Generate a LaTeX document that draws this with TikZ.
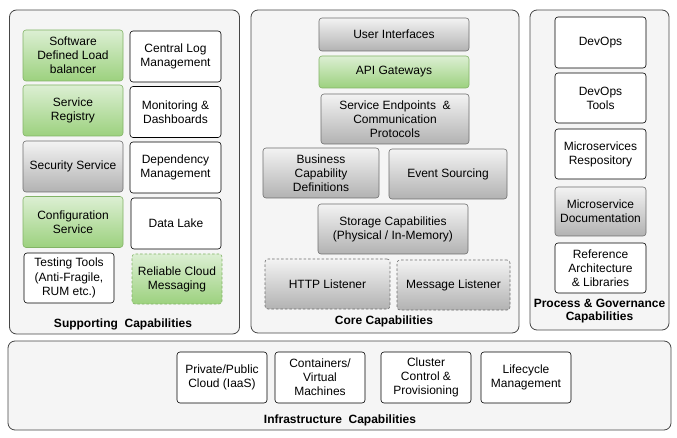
\documentclass[tikz,border=0pt]{standalone}
\usepackage{fontspec}
\setmainfont{Liberation Sans}
\definecolor{gtop}{RGB}{220,239,211}
\definecolor{gbot}{RGB}{156,209,126}
\definecolor{gline}{RGB}{130,179,102}
\definecolor{ytop}{RGB}{243,243,243}
\definecolor{ybot}{RGB}{178,178,178}
\definecolor{yline}{RGB}{110,110,110}
\definecolor{pfill}{RGB}{245,245,245}
\definecolor{pline}{RGB}{70,70,70}
\tikzset{
  panel/.style={draw=pline, fill=pfill, rounded corners=7pt, line width=0.8pt, inner sep=0pt},
  box/.style={rounded corners=3pt, inner sep=0pt, align=center, line width=0.6pt,
    font=\fontsize{12}{14.2}\selectfont},
  wbox/.style={box, draw=black, fill=white},
  gbox/.style={box, draw=gline, top color=gtop, bottom color=gbot},
  ybox/.style={box, draw=yline, top color=ytop, bottom color=ybot},
  dbox/.style={dash pattern=on 2.5pt off 2pt},
  plabel/.style={align=center, inner sep=0pt, font=\bfseries\fontsize{12}{13.5}\selectfont}
}
\begin{document}
\begin{tikzpicture}[x=1pt,y=-1pt]
\useasboundingbox (0,0) rectangle (677,438);
% panels
\node[panel, minimum width=230, minimum height=324] (sup) at (124.5,172) {};
\node[panel, minimum width=268, minimum height=323] (core) at (385,171.5) {};
\node[panel, minimum width=139, minimum height=320] (proc) at (599.5,170) {};
\node[panel, minimum width=663, minimum height=89] (infra) at (339.5,385.5) {};
% supporting
\node[gbox, minimum width=100, minimum height=51] (sdl) at (73,55.5) {Software\\Defined Load\\balancer};
\node[gbox, minimum width=100, minimum height=51] (sreg) at (73,110.5) {Service\\Registry};
\node[ybox, minimum width=100, minimum height=51] (sec) at (73,166.5) {Security Service};
\node[gbox, minimum width=100, minimum height=51] (conf) at (73,222) {Configuration\\Service};
\node[wbox, minimum width=90, minimum height=50] (test) at (69,278) {Testing Tools\\(Anti-Fragile,\\RUM etc.)};
\node[wbox, minimum width=91, minimum height=51] (clm) at (175.5,56.5) {Central Log\\Management};
\node[wbox, minimum width=91, minimum height=51] (mon) at (175.5,112) {Monitoring \&\\Dashboards};
\node[wbox, minimum width=91, minimum height=51] (dep) at (175.5,167.5) {Dependency\\Management};
\node[wbox, minimum width=90, minimum height=51] (dl) at (176,223.5) {Data Lake};
\node[gbox, dbox, minimum width=90, minimum height=50] (rcm) at (177,279) {Reliable Cloud\\Messaging};
\node[plabel] (supl) at (123,324) {Supporting\ \ Capabilities};
% core
\node[ybox, minimum width=150, minimum height=33] (ui) at (394,34.5) {User Interfaces};
\node[gbox, minimum width=150, minimum height=32] (api) at (394,72) {API Gateways};
\node[ybox, minimum width=148, minimum height=50] (sep) at (395,119) {Service Endpoints\ \ \&\\Communication\\Protocols};
\node[ybox, minimum width=116, minimum height=50] (bcd) at (321,173) {Business\\Capability\\Definitions};
\node[ybox, minimum width=118, minimum height=50] (es) at (448,174) {Event Sourcing};
\node[ybox, minimum width=150, minimum height=50] (stor) at (393,229) {Storage Capabilities\\(Physical / In-Memory)};
\node[ybox, dbox, minimum width=125, minimum height=50] (http) at (327.5,284) {HTTP Listener};
\node[ybox, dbox, minimum width=113, minimum height=50] (ml) at (453.5,285) {Message Listener};
\node[plabel] (corel) at (384,321) {Core Capabilities};
% process
\node[wbox, minimum width=91, minimum height=51] (devops) at (600.5,42.5) {DevOps};
\node[wbox, minimum width=91, minimum height=50] (tools) at (600.5,98) {DevOps\\Tools};
\node[wbox, minimum width=91, minimum height=50] (repo) at (600.5,154) {Microservices\\Respository};
\node[ybox, minimum width=91, minimum height=49] (doc) at (600.5,211.5) {Microservice\\Documentation};
\node[wbox, minimum width=91, minimum height=50] (ref) at (600.5,268) {Reference\\Architecture\\\& Libraries};
\node[plabel] (procl) at (599.5,311) {Process \& Governance\\Capabilities};
% infrastructure
\node[wbox, minimum width=90, minimum height=51] (cloud) at (222,377.5) {Private/Public\\Cloud (IaaS)};
\node[wbox, minimum width=90, minimum height=51] (cont) at (320,377.5) {Containers/\\Virtual\\Machines};
\node[wbox, minimum width=90, minimum height=51] (clus) at (426,377.5) {Cluster\\Control \&\\Provisioning};
\node[wbox, minimum width=90, minimum height=51] (life) at (526,377.5) {Lifecycle\\Management};
\node[plabel] (infral) at (340,420) {Infrastructure\ \ Capabilities};
\end{tikzpicture}
\end{document}
